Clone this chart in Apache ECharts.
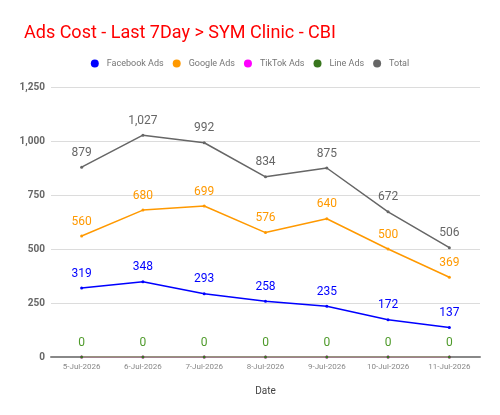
<!DOCTYPE html>
<html>
<head>
<meta charset="utf-8">
<script src="https://cdn.jsdelivr.net/npm/echarts@6/dist/echarts.min.js"></script>
<style>
  html, body { margin: 0; padding: 0; background: #fff; }
  #chart { width: 500px; height: 415px; }
</style>
</head>
<body>
<div id="chart"></div>
<script>
const dates = ['5-Jul-2026', '6-Jul-2026', '7-Jul-2026', '8-Jul-2026', '9-Jul-2026', '10-Jul-2026', '11-Jul-2026'];
const facebookAds = [319, 348, 293, 258, 235, 172, 137];
const googleAds = [560, 680, 699, 576, 640, 500, 369];
const tiktokAds = [0, 0, 0, 0, 0, 0, 0];
const lineAds = [0, 0, 0, 0, 0, 0, 0];
const total = [879, 1027, 992, 834, 875, 672, 506];

const chart = echarts.init(document.getElementById('chart'));

const makeSeries = (name, data, color, labelColor, showLabel) => ({
  name: name,
  type: 'line',
  data: data,
  symbol: 'circle',
  symbolSize: 3,
  lineStyle: { width: 1.5, color: color },
  itemStyle: { color: color },
  label: {
    show: showLabel,
    position: 'top',
    distance: 7,
    color: labelColor,
    fontSize: 12,
    fontFamily: 'Roboto',
    formatter: p => p.value.toLocaleString('en-US')
  }
});

const option = {
  animation: false,
  textStyle: { fontFamily: 'Roboto' },
  title: {
    text: 'Ads Cost - Last 7Day > SYM Clinic - CBI',
    left: 19,
    top: 19,
    textStyle: { color: '#ff0000', fontSize: 18, fontWeight: 'normal', fontFamily: 'Roboto' }
  },
  legend: {
    top: 54,
    left: 'center',
    icon: 'circle',
    itemWidth: 8,
    itemHeight: 8,
    itemGap: 9,
    textStyle: { color: '#757575', fontSize: 9, fontFamily: 'Roboto', padding: [0, 0, 0, 3] }
  },
  grid: { left: 51, right: 20, top: 87, bottom: 58, containLabel: false },
  xAxis: {
    type: 'category',
    data: dates,
    name: 'Date',
    nameLocation: 'middle',
    nameGap: 29,
    nameTextStyle: { color: '#444', fontSize: 10 },
    axisLine: { lineStyle: { color: '#888', width: 2 } },
    axisTick: { show: false },
    axisLabel: { color: '#888', fontSize: 8, margin: 6 },
    splitLine: { show: false }
  },
  yAxis: {
    type: 'value',
    min: 0,
    max: 1250,
    interval: 250,
    axisLine: { show: false },
    axisTick: { show: false },
    axisLabel: {
      color: '#666',
      fontSize: 10,
      fontWeight: 'bold',
      margin: 6,
      formatter: v => v.toLocaleString('en-US')
    },
    splitLine: { lineStyle: { color: '#dcdcdc', width: 1 } }
  },
  series: [
    makeSeries('Facebook Ads', facebookAds, '#0000ff', '#0000ff', true),
    makeSeries('Google Ads', googleAds, '#ff9900', '#ff9900', true),
    makeSeries('TikTok Ads', tiktokAds, '#ff00ff', '#ff00ff', false),
    makeSeries('Line Ads', lineAds, '#38761d', '#4e9a2a', true),
    makeSeries('Total', total, '#666666', '#666666', true)
  ]
};

// Line Ads line is drawn lighter over the axis
option.series[3].lineStyle.color = '#7fb85e';

chart.setOption(option);
</script>
</body>
</html>
